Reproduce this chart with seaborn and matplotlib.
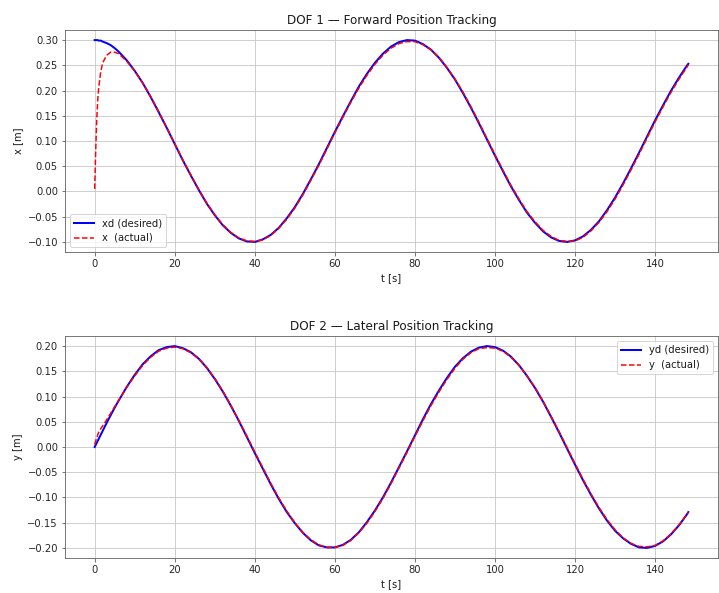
import matplotlib
matplotlib.use("Agg")
import matplotlib.pyplot as plt
import seaborn as sns
import numpy as np

# time samples [s]
t = [0, 0.25, 0.5, 0.75, 1, 1.5, 2, 3, 4, 5, 6, 8, 10, 12, 14, 16, 18, 20, 22, 24, 26, 28,
     30, 32, 34, 36, 38, 40, 42, 44, 46, 48, 50, 52, 54, 56, 58, 60, 62, 64, 66,
     68, 70, 72, 74, 76, 78, 80, 82, 84, 86, 88, 90, 92, 94, 96, 98, 100, 102,
     104, 106, 108, 110, 112, 114, 116, 118, 120, 122, 124, 126, 128, 130, 132,
     134, 136, 138, 140, 142, 144, 146, 148, 148.3]

# DOF 1 desired / actual [m]
xd = [0.300, 0.300, 0.300, 0.300, 0.299, 0.299, 0.297, 0.294, 0.290, 0.284, 0.277,
      0.260, 0.239, 0.215, 0.187, 0.157, 0.126, 0.094, 0.062, 0.032, 0.003, -0.024,
      -0.047, -0.067, -0.082, -0.093, -0.099, -0.100, -0.095, -0.086, -0.072, -0.053,
      -0.031, -0.005, 0.024, 0.054, 0.086, 0.118, 0.149, 0.179, 0.208, 0.233, 0.255,
      0.273, 0.287, 0.296, 0.300, 0.299, 0.292, 0.281, 0.265, 0.245, 0.222, 0.195,
      0.166, 0.135, 0.103, 0.071, 0.040, 0.010, -0.017, -0.042, -0.062, -0.079,
      -0.091, -0.098, -0.100, -0.097, -0.089, -0.076, -0.059, -0.037, -0.012, 0.016,
      0.046, 0.077, 0.109, 0.141, 0.171, 0.200, 0.226, 0.250, 0.253]
x_act = [0.005, 0.080, 0.140, 0.180, 0.205, 0.237, 0.255, 0.270, 0.276, 0.276, 0.273,
         0.258, 0.239, 0.215, 0.188, 0.158, 0.127, 0.095, 0.063, 0.033, 0.004, -0.023,
         -0.046, -0.066, -0.081, -0.092, -0.098, -0.099, -0.096, -0.087, -0.073, -0.055,
         -0.033, -0.007, 0.022, 0.052, 0.084, 0.116, 0.147, 0.177, 0.205, 0.230, 0.252,
         0.270, 0.284, 0.293, 0.297, 0.297, 0.291, 0.281, 0.266, 0.246, 0.223, 0.197,
         0.168, 0.137, 0.105, 0.073, 0.042, 0.012, -0.015, -0.040, -0.060, -0.077,
         -0.089, -0.097, -0.099, -0.098, -0.091, -0.078, -0.061, -0.040, -0.015, 0.013,
         0.043, 0.074, 0.106, 0.138, 0.168, 0.197, 0.223, 0.247, 0.251]

# DOF 2 desired / actual [m]
yd = [0.000, 0.004, 0.008, 0.012, 0.016, 0.024, 0.032, 0.048, 0.063, 0.078, 0.092,
      0.119, 0.143, 0.164, 0.180, 0.192, 0.198, 0.200, 0.196, 0.188, 0.175, 0.157,
      0.135, 0.110, 0.082, 0.052, 0.020, -0.012, -0.043, -0.074, -0.103, -0.129,
      -0.151, -0.170, -0.185, -0.195, -0.199, -0.199, -0.194, -0.184, -0.169, -0.149,
      -0.126, -0.100, -0.071, -0.040, -0.009, 0.023, 0.055, 0.085, 0.112, 0.137,
      0.159, 0.176, 0.189, 0.197, 0.200, 0.198, 0.191, 0.179, 0.162, 0.141, 0.117,
      0.090, 0.060, 0.029, -0.003, -0.035, -0.066, -0.095, -0.122, -0.146, -0.166,
      -0.181, -0.192, -0.199, -0.200, -0.196, -0.187, -0.173, -0.155, -0.133, -0.129]
y_act = [0.005, 0.012, 0.018, 0.024, 0.029, 0.036, 0.042, 0.054, 0.067, 0.080, 0.093,
         0.118, 0.141, 0.162, 0.178, 0.190, 0.196, 0.198, 0.195, 0.187, 0.175, 0.158,
         0.136, 0.111, 0.083, 0.053, 0.022, -0.010, -0.041, -0.072, -0.101, -0.127,
         -0.150, -0.169, -0.184, -0.194, -0.199, -0.199, -0.195, -0.185, -0.170, -0.151,
         -0.128, -0.102, -0.073, -0.042, -0.011, 0.021, 0.052, 0.082, 0.109, 0.134,
         0.156, 0.174, 0.187, 0.195, 0.197, 0.196, 0.190, 0.178, 0.162, 0.141, 0.118,
         0.091, 0.061, 0.031, -0.001, -0.033, -0.064, -0.093, -0.120, -0.144, -0.164,
         -0.180, -0.191, -0.197, -0.198, -0.195, -0.186, -0.172, -0.154, -0.133, -0.129]

plt.rcParams.update({
    "axes.edgecolor": "0.35",
    "xtick.color": "0.35",
    "ytick.color": "0.35",
    "xtick.labelcolor": "0.15",
    "ytick.labelcolor": "0.15",
    "text.color": "0.1",
    "axes.labelcolor": "0.1",
    "grid.color": "#c4c4c4",
})

DPI = 72
fig = plt.figure(figsize=(719 / DPI, 593 / DPI), dpi=DPI)
ax1 = fig.add_axes([65 / 719, 1 - 252 / 593, 653 / 719, 222 / 593])
ax2 = fig.add_axes([65 / 719, 1 - 558 / 593, 653 / 719, 222 / 593])

sns.lineplot(x=t, y=xd, ax=ax1, color="blue", linewidth=2, label="xd (desired)")
sns.lineplot(x=t, y=x_act, ax=ax1, color="red", linewidth=1.5, linestyle="--",
             label="x  (actual)")
ax1.set_title("DOF 1 \u2014 Forward Position Tracking")
ax1.set_xlabel("t [s]")
ax1.set_ylabel("x [m]")
ax1.grid(True)
ax1.legend(loc="lower left")

sns.lineplot(x=t, y=yd, ax=ax2, color="blue", linewidth=2, label="yd (desired)")
sns.lineplot(x=t, y=y_act, ax=ax2, color="red", linewidth=1.5, linestyle="--",
             label="y  (actual)")
ax2.set_title("DOF 2 \u2014 Lateral Position Tracking")
ax2.set_xlabel("t [s]")
ax2.set_ylabel("y [m]")
ax2.grid(True)
ax2.legend(loc="upper right")

fig.savefig("out.png", dpi=DPI)
